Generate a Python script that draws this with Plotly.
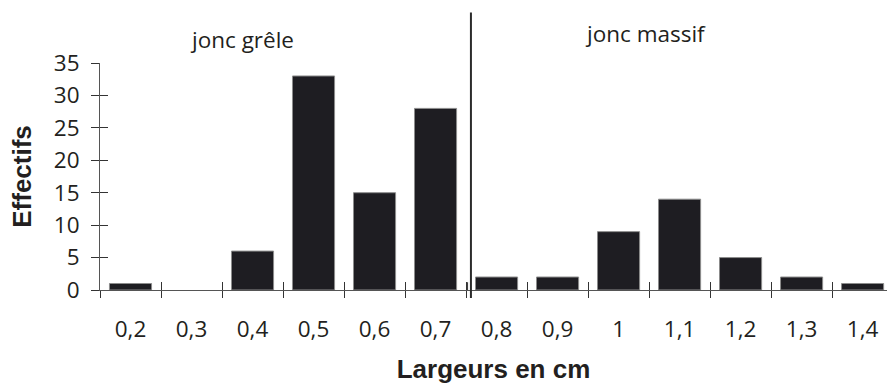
import plotly.graph_objects as go

# Stem width classes (cm) and counts
largeurs = ["0,2", "0,3", "0,4", "0,5", "0,6", "0,7", "0,8", "0,9", "1", "1,1", "1,2", "1,3", "1,4"]
effectifs = [1, 0, 6, 33, 15, 28, 2, 2, 9, 14, 5, 2, 1]
y_ticks = [0, 5, 10, 15, 20, 25, 30, 35]
groupes = ["jonc grêle", "jonc massif"]

positions = list(range(len(largeurs)))
bornes = [p - 0.5 for p in positions] + [positions[-1] + 0.5]
x_range = [-0.5, 12.4]
y_range = [0, 35]

tick_font = dict(family="Open Sans", size=22.5, color="#231f20")
label_font = dict(family="Open Sans", size=22.5, color="#231f20")
title_font = dict(family="Liberation Sans", size=26, color="#231f20", weight="bold")
axis_col = "#555555"

fig = go.Figure()
fig.add_trace(go.Bar(
    x=positions, y=effectifs,
    marker=dict(color="#1e1d22",
                line=dict(color="#8c8c8c", width=[1 if v > 0 else 0 for v in effectifs])),
    width=0.69, showlegend=False, hoverinfo="x+y",
))

fig.update_layout(
    width=887, height=387,
    margin=dict(l=100, r=0, t=63, b=97),
    paper_bgcolor="white", plot_bgcolor="white",
    showlegend=False,
    xaxis=dict(
        range=x_range, tickmode="array", tickvals=positions, ticktext=largeurs,
        ticks="", showgrid=False, zeroline=False,
        showline=True, linecolor=axis_col, linewidth=1,
        tickfont=tick_font, ticklabelstandoff=19,
        title=dict(text="Largeurs en cm", font=title_font, standoff=16),
    ),
    xaxis2=dict(
        overlaying="x", anchor="y", range=x_range, tickmode="array", tickvals=bornes,
        ticks="outside", ticklen=7, tickcolor="#333333", tickwidth=1,
        showticklabels=False, showgrid=False, zeroline=False, showline=False,
    ),
    xaxis3=dict(
        overlaying="x", anchor="y", range=x_range, tickmode="array", tickvals=bornes,
        ticks="inside", ticklen=8, tickcolor="#333333", tickwidth=1,
        showticklabels=False, showgrid=False, zeroline=False, showline=False,
    ),
    yaxis=dict(
        range=y_range, tickmode="array", tickvals=y_ticks,
        ticks="outside", ticklen=8, tickcolor="#333333", tickwidth=1,
        showgrid=False, zeroline=False,
        showline=True, linecolor=axis_col, linewidth=1,
        tickfont=tick_font, ticklabelstandoff=7,
        title=dict(text="Effectifs", font=title_font, standoff=14),
    ),
    yaxis2=dict(
        overlaying="y", anchor="x", side="left", range=y_range, tickmode="array", tickvals=y_ticks,
        ticks="inside", ticklen=8, tickcolor="#333333", tickwidth=1,
        showticklabels=False, showgrid=False, zeroline=False, showline=False,
    ),
)

# invisible traces so the overlay axes carrying the crossing ticks are drawn
for xa, ya in (("x2", "y"), ("x3", "y"), ("x", "y2")):
    fig.add_trace(go.Scatter(x=[0], y=[0], xaxis=xa, yaxis=ya, mode="markers",
                             marker=dict(opacity=0), showlegend=False, hoverinfo="skip"))

# separator between the two groups, with the axis-break tick beside it
separation = 5.5
fig.add_shape(type="line", xref="x", yref="paper", x0=separation + 0.08, x1=separation + 0.08,
              y0=-0.035, y1=1.223, line=dict(color="#2b2b2b", width=2))
fig.add_shape(type="line", xref="x", yref="y", x0=separation + 0.025, x1=separation + 0.025,
              y0=-1.1, y1=1.2, line=dict(color="#333333", width=1))

# group labels
fig.add_annotation(text=groupes[0], x=1.82, y=1.104, xref="x", yref="paper",
                   showarrow=False, font=label_font, xanchor="center", yanchor="middle")
fig.add_annotation(text=groupes[1], x=8.44, y=1.131, xref="x", yref="paper",
                   showarrow=False, font=label_font, xanchor="center", yanchor="middle")

fig.write_html("out.html")
